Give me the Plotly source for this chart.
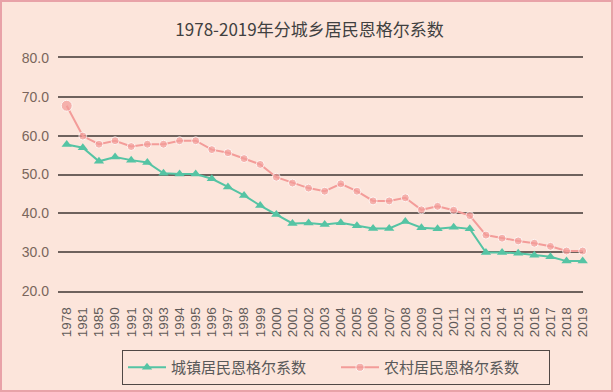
import plotly.graph_objects as go

years = ["1978", "1981", "1985", "1990", "1991", "1992", "1993", "1994", "1995", "1996",
         "1997", "1998", "1999", "2000", "2001", "2002", "2003", "2004", "2005", "2006",
         "2007", "2008", "2009", "2010", "2011", "2012", "2013", "2014", "2015", "2016",
         "2017", "2018", "2019"]
urban = [57.7, 56.9, 53.4, 54.5, 53.7, 53.1, 50.3, 50.1, 50.1, 48.9,
         46.8, 44.6, 42.0, 39.7, 37.4, 37.5, 37.1, 37.6, 36.8, 36.1,
         36.1, 37.9, 36.3, 36.0, 36.4, 36.0, 29.9, 29.9, 29.7, 29.2,
         28.8, 27.7, 27.7]
rural = [67.7, 59.9, 57.8, 58.7, 57.2, 57.8, 57.8, 58.7, 58.7, 56.4,
         55.6, 54.1, 52.6, 49.3, 47.8, 46.5, 45.7, 47.6, 45.7, 43.2,
         43.2, 44.0, 40.9, 41.8, 40.8, 39.4, 34.4, 33.6, 32.9, 32.3,
         31.5, 30.3, 30.3]
yticks = [20, 30, 40, 50, 60, 70, 80]
title_text = "1978-2019年分城乡居民恩格尔系数"
urban_name = "城镇居民恩格尔系数"
rural_name = "农村居民恩格尔系数"

FONT = "Noto Sans CJK SC, Liberation Sans, sans-serif"
BG = "#FCE5DB"
TEAL = "#55C4A4"
PINK = "#F39C99"
GRID = "#6E625D"

x_idx = list(range(len(years)))
rural_sizes = [11] + [8] * (len(years) - 1)

fig = go.Figure()
fig.add_trace(go.Scatter(
    x=x_idx, y=urban, name=urban_name, mode="lines+markers", cliponaxis=False,
    line=dict(color=TEAL, width=2),
    marker=dict(symbol="triangle-up", size=9, color=TEAL),
))
fig.add_trace(go.Scatter(
    x=x_idx, y=rural, name=rural_name, mode="lines+markers", cliponaxis=False,
    line=dict(color=PINK, width=2),
    marker=dict(symbol="circle", size=rural_sizes, color=PINK),
))

fig.update_layout(
    width=613, height=392,
    paper_bgcolor=BG, plot_bgcolor=BG,
    margin=dict(l=58, r=30, t=58, b=101, autoexpand=False),
    title=dict(text=title_text, x=0.505, xanchor="center", y=1 - 30 / 392, yanchor="middle",
               font=dict(family=FONT, size=17, color="#404040")),
    font=dict(family=FONT),
    showlegend=True,
    legend=dict(orientation="h", x=(122 - 58) / 525, xanchor="left", y=-(350 - 291) / 233, yanchor="top",
                bordercolor="#504845", borderwidth=1, bgcolor=BG,
                font=dict(family=FONT, size=15, color="#595959"),
                itemwidth=38, entrywidth=160, tracegroupgap=0),
    shapes=[dict(type="rect", xref="paper", yref="paper",
                 x0=-58 / 525 + 1 / 525, x1=(613 - 58) / 525 - 1 / 525,
                 y0=-(101 - 1) / 233, y1=1 + (58 - 1) / 233,
                 line=dict(color="#E8A2A8", width=2), layer="below")],
)
fig.update_xaxes(
    range=[-0.54, 32.02], tickmode="array", tickvals=x_idx, ticktext=years,
    tickangle=-90, tickfont=dict(family="Liberation Sans, sans-serif", size=13.5, color="#5F5A58"),
    showgrid=False, zeroline=False, showline=True, mirror=True, linecolor=GRID, linewidth=1.5,
    ticks="", ticklabelstandoff=9, automargin=False,
)
fig.update_yaxes(
    range=[20, 80], tickmode="array", tickvals=yticks, tickformat=".1f",
    tickfont=dict(family="Liberation Sans, sans-serif", size=14, color="#7A655C"),
    showgrid=True, gridcolor=GRID, gridwidth=1.5, zeroline=False, showline=False,
    ticks="", ticklabelstandoff=8, automargin=False,
)

fig.write_html("out.html", config={"displayModeBar": False},
               post_script="document.body.style.margin='0';document.body.style.overflow='hidden';")
